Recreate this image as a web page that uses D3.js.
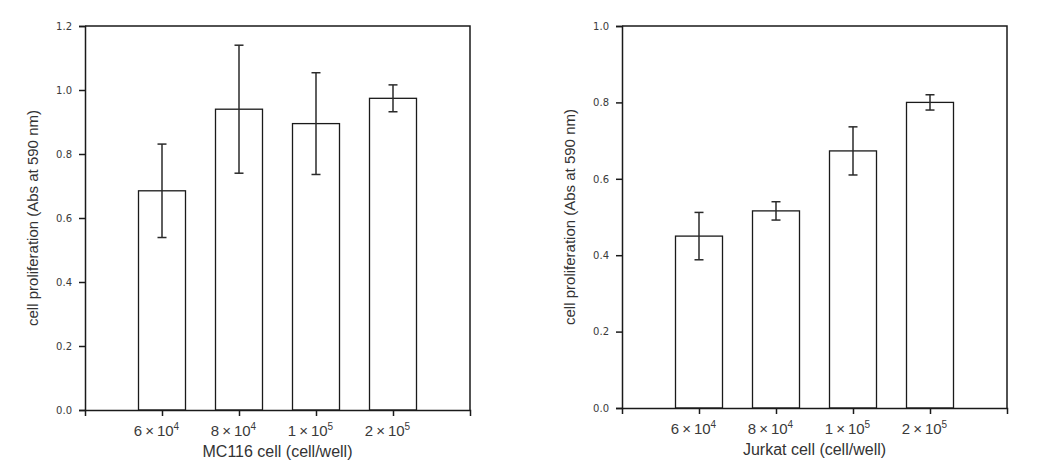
<!DOCTYPE html>
<html>
<head>
<meta charset="utf-8">
<script src="https://cdn.jsdelivr.net/npm/d3@7"></script>
<style>
    body { margin: 0; background: #fff; }
    svg { display: block; }
    .tick text { fill: #3a3a3a; }
</style>
</head>
<body>
<svg width="1040" height="475"></svg>
<script>
// category labels: mantissa x 10^exponent
const categoryBase = ["6", "8", "1", "2"];
const categoryExp = ["4", "4", "5", "5"];

const mc116Values = [0.685, 0.940, 0.895, 0.974];
const mc116Errors = [0.146, 0.200, 0.159, 0.042];

const jurkatValues = [0.450, 0.516, 0.673, 0.800];
const jurkatErrors = [0.062, 0.024, 0.063, 0.020];

const mc116Ticks = [0.0, 0.2, 0.4, 0.6, 0.8, 1.0, 1.2];
const jurkatTicks = [0.0, 0.2, 0.4, 0.6, 0.8, 1.0];

const yTitle = "cell proliferation (Abs at 590 nm)";

function drawPanel(p) {
    const svg = d3.select("svg");
    const g = svg.append("g");
    const cats = categoryBase.map((d, i) => i);

    const x = d3.scalePoint()
        .domain(cats)
        .range([p.left, p.right])
        .padding(1);

    const y = d3.scaleLinear()
        .domain([0, p.ticks[p.ticks.length - 1]])
        .range([p.bottom, p.top]);

    const barWidth = 47;

    // bars
    g.selectAll("rect.bar")
        .data(p.values)
        .enter()
        .append("rect")
        .attr("class", "bar")
        .attr("x", (d, i) => x(i) - barWidth / 2)
        .attr("y", d => y(d))
        .attr("width", barWidth)
        .attr("height", d => y(0) - y(d))
        .attr("fill", "#fff")
        .attr("stroke", "#1a1a1a")
        .attr("stroke-width", 1.3);

    // error bars
    p.values.forEach((v, i) => {
        const e = p.errors[i];
        const cx = x(i);
        g.append("line")
            .attr("x1", cx).attr("x2", cx)
            .attr("y1", y(v - e)).attr("y2", y(v + e))
            .attr("stroke", "#2a2a2a").attr("stroke-width", 1.5);
        [v - e, v + e].forEach(t => {
            g.append("line")
                .attr("x1", cx - 4.5).attr("x2", cx + 4.5)
                .attr("y1", y(t)).attr("y2", y(t))
                .attr("stroke", "#2a2a2a").attr("stroke-width", 1.5);
        });
    });

    // top and right frame
    g.append("path")
        .attr("d", `M${p.left},${p.top}H${p.right}V${p.bottom}`)
        .attr("fill", "none")
        .attr("stroke", "#1a1a1a")
        .attr("stroke-width", 1.5);

    // left axis
    const yAxis = g.append("g")
        .attr("transform", `translate(${p.left},0)`)
        .call(d3.axisLeft(y)
            .tickValues(p.ticks)
            .tickFormat(d3.format(".1f"))
            .tickSize(6)
            .tickPadding(7));
    yAxis.selectAll("text")
        .attr("font-family", "DejaVu Sans, sans-serif")
        .attr("font-size", "10px");
    yAxis.selectAll("path, line")
        .attr("stroke", "#1a1a1a")
        .attr("stroke-width", 1.5);

    // bottom axis
    const xAxis = g.append("g")
        .attr("transform", `translate(0,${p.bottom})`)
        .call(d3.axisBottom(x)
            .tickSize(6)
            .tickPadding(9)
            .tickFormat(""));
    xAxis.selectAll("path, line")
        .attr("stroke", "#1a1a1a")
        .attr("stroke-width", 1.5);

    xAxis.selectAll(".tick text").each(function (i) {
        const t = d3.select(this)
            .attr("font-family", "Liberation Sans, Arial, sans-serif")
            .attr("font-size", "15px")
            .attr("dx", -6)
            .attr("fill", "#555");
        t.append("tspan").text(categoryBase[i] + "\u2009\u00d7\u200910");
        t.append("tspan")
            .attr("font-size", "10px")
            .attr("dy", "-6")
            .text(categoryExp[i]);
    });

    // axis titles
    g.append("text")
        .attr("x", (p.left + p.right) / 2)
        .attr("y", p.bottom + 47)
        .attr("text-anchor", "middle")
        .attr("font-family", "Liberation Sans, Arial, sans-serif")
        .attr("font-size", "16px")
        .attr("fill", "#333")
        .text(p.xTitle);

    g.append("text")
        .attr("transform", `translate(${p.left - 52},${(p.top + p.bottom) / 2}) rotate(-90)`)
        .attr("text-anchor", "middle")
        .attr("dy", "0.35em")
        .attr("font-family", "Liberation Sans, Arial, sans-serif")
        .attr("font-size", "15px")
        .attr("fill", "#333")
        .text(yTitle);
}

drawPanel({
    left: 85, right: 470, top: 26, bottom: 410,
    values: mc116Values, errors: mc116Errors, ticks: mc116Ticks,
    xTitle: "MC116 cell (cell/well)"
});

drawPanel({
    left: 622, right: 1007, top: 26, bottom: 408,
    values: jurkatValues, errors: jurkatErrors, ticks: jurkatTicks,
    xTitle: "Jurkat cell (cell/well)"
});
</script>
</body>
</html>
